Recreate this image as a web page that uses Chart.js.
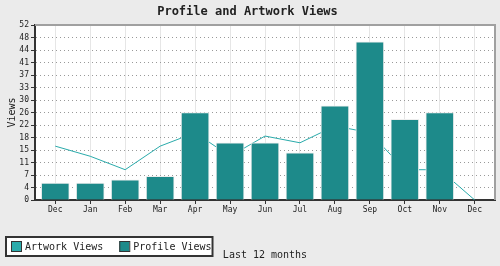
<!DOCTYPE html>
<html>
<head>
<meta charset="utf-8">
<script src="https://cdn.jsdelivr.net/npm/chart.js@4/dist/chart.umd.min.js"></script>
<style>
  html, body { margin: 0; padding: 0; background: #ebebeb; }
  canvas { display: block; }
</style>
</head>
<body>
<canvas id="c" width="500" height="266"></canvas>
<script>
const months = ['Dec','Jan','Feb','Mar','Apr','May','Jun','Jul','Aug','Sep','Oct','Nov','Dec'];
const profileViews = [5, 5, 6, 7, 26, 17, 17, 14, 28, 47, 24, 26, null];
const artworkViews = [16, 13, 9, 16, 20, 13, 19, 17, 22, 20, 9, 9, 0];
const yTickLabels = ['0','4','7','11','15','18','22','26','30','33','37','41','44','48','52'];
const yMax = 52;

const MONO = '"DejaVu Sans Mono", "Liberation Mono", monospace';

const bgPlugin = {
  id: 'bgPlugin',
  beforeDraw(chart) {
    const {ctx, chartArea: a} = chart;
    ctx.save();
    ctx.fillStyle = '#ebebeb';
    ctx.fillRect(0, 0, chart.width, chart.height);
    ctx.fillStyle = '#ffffff';
    ctx.fillRect(a.left, a.top, a.right - a.left, a.bottom - a.top);
    ctx.restore();
  },
  afterDraw(chart) {
    const {ctx, chartArea: a} = chart;
    ctx.save();
    // top and right frame
    ctx.strokeStyle = '#a0a0a0';
    ctx.lineWidth = 2;
    ctx.beginPath();
    ctx.moveTo(a.left, a.top);
    ctx.lineTo(a.right, a.top);
    ctx.lineTo(a.right, a.bottom);
    ctx.stroke();
    // legend box
    ctx.font = '10px ' + MONO;
    ctx.textBaseline = 'middle';
    const items = chart.data.datasets;
    const boxX = 5, boxY = 236, boxH = 21;
    let x = boxX + 6;
    const pos = [];
    items.forEach(ds => {
      const w = ctx.measureText(ds.label).width;
      pos.push({x, w, ds});
      x += 14 + w + 16;
    });
    const boxW = x - 16 + 2 - boxX;
    ctx.fillStyle = '#ffffff';
    ctx.fillRect(boxX, boxY, boxW, boxH);
    ctx.strokeStyle = '#333333';
    ctx.lineWidth = 2;
    ctx.strokeRect(boxX + 1, boxY + 1, boxW - 2, boxH - 2);
    pos.forEach(p => {
      ctx.fillStyle = p.ds.legendColor;
      ctx.fillRect(p.x, boxY + 5, 10, 11);
      ctx.strokeStyle = '#333333';
      ctx.lineWidth = 1;
      ctx.strokeRect(p.x + 0.5, boxY + 5.5, 10, 10);
      ctx.fillStyle = '#222222';
      ctx.textAlign = 'left';
      ctx.fillText(p.ds.label, p.x + 14, boxY + boxH / 2 + 0.5);
    });
    ctx.restore();
  }
};

new Chart(document.getElementById('c'), {
  data: {
    datasets: [
      {
        type: 'line',
        label: 'Artwork Views',
        data: artworkViews.map((v, i) => ({x: i, y: v})),
        borderColor: '#2aabab',
        legendColor: '#2aabab',
        borderWidth: 1,
        pointRadius: 0,
        tension: 0,
        fill: false,
        order: 2
      },
      {
        type: 'bar',
        label: 'Profile Views',
        data: profileViews.map((v, i) => ({x: i, y: v})),
        backgroundColor: '#1d8a8a',
        legendColor: '#1d8a8a',
        borderColor: '#eeeeee',
        borderWidth: 1,
        barThickness: 28,
        order: 1
      }
    ]
  },
  options: {
    responsive: false,
    animation: false,
    layout: { padding: { left: 0, right: 5, top: 0, bottom: 0 } },
    plugins: {
      legend: { display: false },
      tooltip: { enabled: false },
      title: {
        display: true,
        text: 'Profile and Artwork Views',
        color: '#222222',
        font: { family: MONO, size: 12, weight: 'bold', lineHeight: 1.2 },
        padding: { top: 5, bottom: 5.6 }
      }
    },
    scales: {
      x: {
        type: 'linear',
        offset: false,
        min: -0.58,
        max: 12.58,
        afterBuildTicks(scale) { scale.ticks = months.map((m, i) => ({value: i})); },
        afterFit(scale) { scale.height = 66; },
        ticks: {
          callback: (v, i) => months[i],
          color: '#222222',
          font: { family: MONO, size: 8 },
          padding: 1,
          maxRotation: 0,
          autoSkip: false
        },
        grid: {
          offset: false,
          color: '#e6e6e6',
          lineWidth: 1,
          tickColor: '#333333',
          tickLength: 4,
          tickBorderDash: []
        },
        border: { color: '#333333', width: 2 },
        title: {
          display: true,
          text: 'Last 12 months',
          color: '#222222',
          font: { family: MONO, size: 10, lineHeight: 1.2 },
          padding: { top: 0, bottom: 5 }
        }
      },
      y: {
        min: 0,
        max: yMax,
        afterBuildTicks(scale) { scale.ticks = yTickLabels.map((l, i) => ({value: i * yMax / 14})); },
        afterFit(scale) { scale.width = 35; },
        ticks: {
          callback: (v, i) => yTickLabels[i],
          color: '#222222',
          font: { family: MONO, size: 8 },
          padding: 2,
          autoSkip: false
        },
        grid: {
          color: '#999999',
          lineWidth: 1,
          tickColor: '#333333',
          tickLength: 4,
          tickBorderDash: []
        },
        border: { color: '#333333', width: 2, dash: [1, 3] },
        title: {
          display: true,
          text: 'Views',
          color: '#222222',
          font: { family: MONO, size: 10, lineHeight: 1.2 },
          padding: { top: 6, bottom: 0 }
        }
      }
    }
  },
  plugins: [bgPlugin]
});
</script>
</body>
</html>
